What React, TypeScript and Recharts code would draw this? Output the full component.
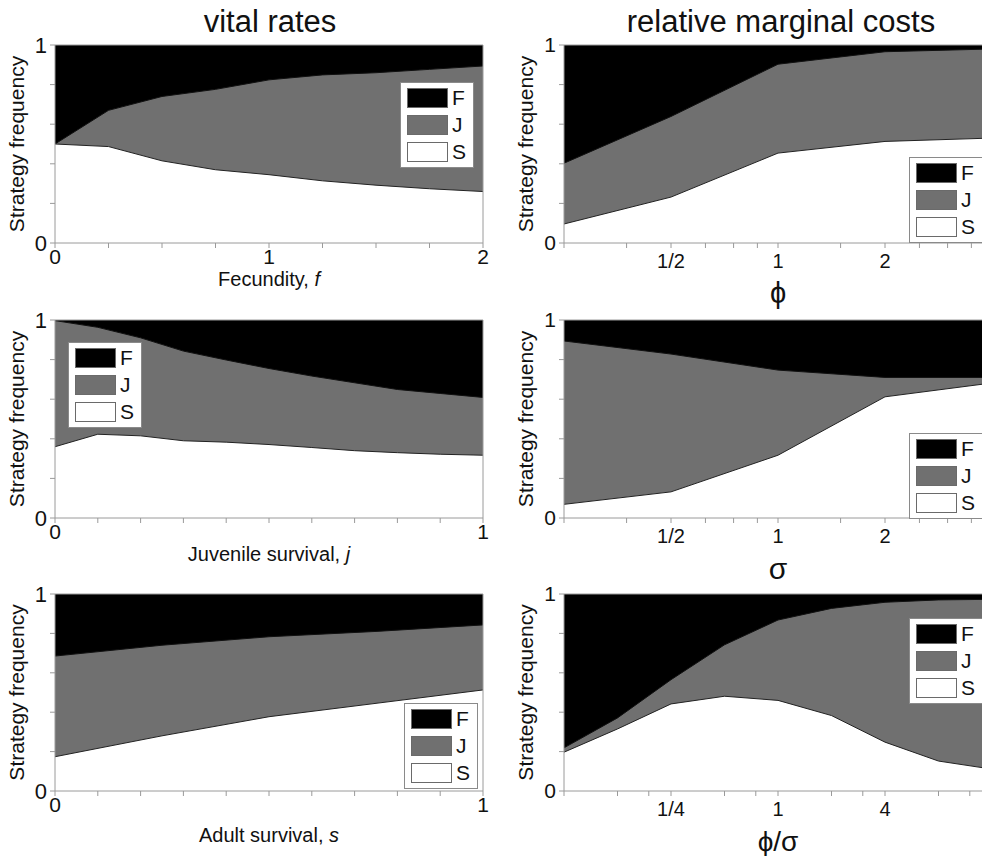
import React from 'react';
import { AreaChart, Area, XAxis, YAxis, ReferenceLine, Legend, Label } from 'recharts';

// ---------- data ----------
// Vital rates: fecundity f
const fecundityX = [0, 0.25, 0.5, 0.75, 1, 1.25, 1.5, 1.75, 2];
const fecundityS = [0.5, 0.487, 0.415, 0.37, 0.345, 0.314, 0.292, 0.274, 0.26];
const fecunditySJ = [0.5, 0.67, 0.74, 0.776, 0.824, 0.849, 0.86, 0.877, 0.894];

// Vital rates: juvenile survival j
const juvenileX = [0, 0.1, 0.2, 0.3, 0.4, 0.5, 0.6, 0.7, 0.8, 0.9, 1];
const juvenileS = [0.36, 0.423, 0.415, 0.39, 0.383, 0.371, 0.356, 0.34, 0.33, 0.322, 0.317];
const juvenileSJ = [0.997, 0.963, 0.91, 0.843, 0.798, 0.755, 0.717, 0.683, 0.649, 0.629, 0.609];

// Vital rates: adult survival s
const adultX = [0, 0.25, 0.5, 0.75, 1];
const adultS = [0.174, 0.28, 0.377, 0.445, 0.513];
const adultSJ = [0.685, 0.74, 0.783, 0.81, 0.843];

// Relative marginal costs: phi
const phiX = [0.25, 0.5, 1, 2, 4];
const phiS = [0.096, 0.232, 0.454, 0.513, 0.53];
const phiSJ = [0.403, 0.639, 0.903, 0.966, 0.98];

// Relative marginal costs: sigma
const sigmaX = [0.25, 0.5, 1, 2, 4];
const sigmaS = [0.069, 0.132, 0.317, 0.612, 0.682];
const sigmaSJ = [0.894, 0.828, 0.747, 0.71, 0.71];

// Relative marginal costs: phi/sigma
const ratioX = [1 / 16, 1 / 8, 1 / 4, 1 / 2, 1, 2, 4, 8, 16];
const ratioS = [0.197, 0.315, 0.442, 0.481, 0.46, 0.383, 0.248, 0.152, 0.111];
const ratioSJ = [0.219, 0.371, 0.565, 0.742, 0.868, 0.927, 0.958, 0.97, 0.973];

// ---------- ticks ----------
const yTicks = [0, 0.2, 0.4, 0.6, 0.8, 1];
const yTickLabels: Record<string, string> = { '0': '0', '1': '1' };
const fecundityTicks = [0, 0.25, 0.5, 0.75, 1, 1.25, 1.5, 1.75, 2];
const fecundityTickLabels: Record<string, string> = { '0': '0', '1': '1', '2': '2' };
const survivalTicks = [0, 0.1, 0.2, 0.3, 0.4, 0.5, 0.6, 0.7, 0.8, 0.9, 1];
const survivalTickLabels: Record<string, string> = { '0': '0', '1': '1' };
const costTicks = [0.25, 0.375, 0.5, 0.625, 0.75, 0.875, 1, 1.5, 2, 2.5, 3, 3.5, 4];
const costTickLabels: Record<string, string> = { '0.5': '1/2', '1': '1', '2': '2' };
const ratioTicks = [1 / 16, 1 / 8, 3 / 16, 1 / 4, 1 / 2, 3 / 4, 1, 2, 3, 4, 8, 12, 16];
const ratioTickLabels: Record<string, string> = { '0.25': '1/4', '1': '1', '4': '4' };

const strategyNames = ['F', 'J', 'S'];
const strategyFill: Record<string, string> = { F: '#000000', J: '#707070', S: '#ffffff' };

const AXIS_GREY = '#9a9a9a';
const TEXT = '#111111';
const FONT = "'Liberation Sans', Arial, Helvetica, sans-serif";

type Row = { x: number; top: number; mid: number; low: number };
const buildRows = (xs: number[], s: number[], sj: number[]): Row[] =>
  xs.map((x, i) => ({ x, top: 1, mid: sj[i], low: s[i] }));

const LegendBox = (props: any) => {
  const payload: any[] = props.payload || [];
  const names = strategyNames.filter((n) => payload.some((p) => p.value === n));
  return (
    <div
      style={{
        background: '#fff',
        border: '1px solid #8a8a8a',
        padding: '5px 6px 5px 6px',
        display: 'flex',
        flexDirection: 'column',
        gap: 7,
        width: 74,
        boxSizing: 'border-box',
        fontFamily: FONT,
      }}
    >
      {names.map((n) => (
        <div key={n} style={{ display: 'flex', alignItems: 'center', height: 20 }}>
          <div
            style={{
              width: 41,
              height: 20,
              boxSizing: 'border-box',
              background: strategyFill[n],
              border: '1px solid #6a6a6a',
              flex: 'none',
            }}
          />
          <span style={{ marginLeft: 4, fontSize: 21, lineHeight: '20px', color: TEXT }}>{n}</span>
        </div>
      ))}
    </div>
  );
};

type PanelProps = {
  left: number;
  top: number;
  width: number;
  height: number;
  marginTop: number;
  yAxisWidth: number;
  xAxisHeight: number;
  rows: Row[];
  xDomain: [number, number];
  xTicks: number[];
  xTickLabels: Record<string, string>;
  logScale?: boolean;
  xLabel: React.ReactNode;
  xLabelDy: number;
  xLabelSize: number;
  yLabelX: number;
  tickFontSize: number;
  xTickMargin: number;
  legendLeft: number;
  legendTop: number;
};

const Panel = (p: PanelProps) => {
  const xLabelContent = (props: any) => {
    const vb = props.viewBox || {};
    const cx = (vb.x ?? 0) + (vb.width ?? 0) / 2;
    const y = (vb.y ?? 0) + p.xLabelDy;
    return (
      <text x={cx} y={y} textAnchor="middle" fontSize={p.xLabelSize} fill={TEXT} fontFamily={FONT}>
        {p.xLabel}
      </text>
    );
  };
  const yLabelContent = (props: any) => {
    const vb = props.viewBox || {};
    const x = (vb.x ?? 0) + p.yLabelX;
    const cy = (vb.y ?? 0) + (vb.height ?? 0) / 2;
    return (
      <text
        x={x}
        y={cy}
        transform={`rotate(-90 ${x} ${cy})`}
        textAnchor="middle"
        fontSize={21}
        fill={TEXT}
        fontFamily={FONT}
      >
        Strategy frequency
      </text>
    );
  };
  return (
    <div style={{ position: 'absolute', left: p.left, top: p.top }}>
      <AreaChart
        width={p.width}
        height={p.height}
        data={p.rows}
        margin={{ top: p.marginTop, right: 8, bottom: 0, left: 0 }}
      >
        <XAxis
          dataKey="x"
          type="number"
          scale={p.logScale ? 'log' : 'linear'}
          domain={p.xDomain}
          ticks={p.xTicks}
          interval={0}
          allowDataOverflow
          tickFormatter={(v: number) => p.xTickLabels[String(v)] ?? ''}
          height={p.xAxisHeight}
          stroke={AXIS_GREY}
          tickLine={{ stroke: AXIS_GREY }}
          tickSize={5}
          tickMargin={p.xTickMargin}
          tick={{ fill: TEXT, fontSize: p.tickFontSize, fontFamily: FONT }}
          label={<Label content={xLabelContent} />}
        />
        <YAxis
          type="number"
          domain={[0, 1]}
          ticks={yTicks}
          interval={0}
          tickFormatter={(v: number) => yTickLabels[String(v)] ?? ''}
          width={p.yAxisWidth}
          stroke={AXIS_GREY}
          tickLine={{ stroke: AXIS_GREY }}
          tickSize={5}
          tickMargin={3}
          tick={{ fill: TEXT, fontSize: p.tickFontSize + 1, fontFamily: FONT }}
          label={<Label content={yLabelContent} />}
        />
        <Area
          type="linear"
          dataKey="top"
          name="F"
          fill={strategyFill.F}
          fillOpacity={1}
          stroke="none"
          isAnimationActive={false}
          dot={false}
          activeDot={false}
        />
        <Area
          type="linear"
          dataKey="mid"
          name="J"
          fill={strategyFill.J}
          fillOpacity={1}
          stroke="#111"
          strokeWidth={1}
          isAnimationActive={false}
          dot={false}
          activeDot={false}
        />
        <Area
          type="linear"
          dataKey="low"
          name="S"
          fill={strategyFill.S}
          fillOpacity={1}
          stroke="#222"
          strokeWidth={1}
          isAnimationActive={false}
          dot={false}
          activeDot={false}
        />
        <ReferenceLine y={1} stroke={AXIS_GREY} strokeWidth={1} />
        <ReferenceLine x={p.xDomain[1]} stroke={AXIS_GREY} strokeWidth={1} />
        <Legend
          layout="vertical"
          align="center"
          verticalAlign="middle"
          content={<LegendBox />}
          wrapperStyle={{ left: p.legendLeft, top: p.legendTop, width: 'auto', height: 'auto' }}
        />
      </AreaChart>
    </div>
  );
};

const LEFT = { left: 0, width: 491, yAxisWidth: 55, yLabelX: 24, tickFontSize: 21, xTickMargin: 1 };
const RIGHT = { left: 491, width: 509, yAxisWidth: 73, yLabelX: 42, tickFontSize: 20, xTickMargin: 6 };
const ROW1 = { top: 0, height: 310, marginTop: 45, xAxisHeight: 67 };
const ROW2 = { top: 290, height: 300, marginTop: 30, xAxisHeight: 72 };
const ROW3 = { top: 580, height: 276, marginTop: 14, xAxisHeight: 65 };

export default function App() {
  return (
    <div
      style={{
        position: 'absolute',
        left: 0,
        top: 0,
        width: 982,
        height: 856,
        overflow: 'hidden',
        background: '#fff',
        fontFamily: FONT,
      }}
    >
      <svg width={982} height={45} style={{ position: 'absolute', left: 0, top: 0 }}>
        <text x={270} y={32} textAnchor="middle" fontSize={31} fill={TEXT} fontFamily={FONT}>
          vital rates
        </text>
        <text x={781} y={32} textAnchor="middle" fontSize={31} fill={TEXT} fontFamily={FONT}>
          relative marginal costs
        </text>
      </svg>

      <Panel
        {...LEFT}
        {...ROW1}
        rows={buildRows(fecundityX, fecundityS, fecunditySJ)}
        xDomain={[0, 2]}
        xTicks={fecundityTicks}
        xTickLabels={fecundityTickLabels}
        xLabel={
          <>
            <tspan>Fecundity, </tspan>
            <tspan fontStyle="italic">f</tspan>
          </>
        }
        xLabelDy={43}
        xLabelSize={20}
        legendLeft={400}
        legendTop={82}
      />
      <Panel
        {...RIGHT}
        {...ROW1}
        logScale
        rows={buildRows(phiX, phiS, phiSJ)}
        xDomain={[0.25, 4]}
        xTicks={costTicks}
        xTickLabels={costTickLabels}
        xLabel={'ϕ'}
        xLabelDy={60}
        xLabelSize={29}
        legendLeft={418}
        legendTop={157}
      />
      <Panel
        {...LEFT}
        {...ROW2}
        rows={buildRows(juvenileX, juvenileS, juvenileSJ)}
        xDomain={[0, 1]}
        xTicks={survivalTicks}
        xTickLabels={survivalTickLabels}
        xLabel={
          <>
            <tspan>Juvenile survival, </tspan>
            <tspan fontStyle="italic">j</tspan>
          </>
        }
        xLabelDy={43}
        xLabelSize={20}
        legendLeft={68}
        legendTop={52}
      />
      <Panel
        {...RIGHT}
        {...ROW2}
        logScale
        rows={buildRows(sigmaX, sigmaS, sigmaSJ)}
        xDomain={[0.25, 4]}
        xTicks={costTicks}
        xTickLabels={costTickLabels}
        xLabel={'σ'}
        xLabelDy={61}
        xLabelSize={30}
        legendLeft={418}
        legendTop={143}
      />
      <Panel
        {...LEFT}
        {...ROW3}
        rows={buildRows(adultX, adultS, adultSJ)}
        xDomain={[0, 1]}
        xTicks={survivalTicks}
        xTickLabels={survivalTickLabels}
        xLabel={
          <>
            <tspan>Adult survival, </tspan>
            <tspan fontStyle="italic">s</tspan>
          </>
        }
        xLabelDy={51}
        xLabelSize={20}
        legendLeft={404}
        legendTop={123}
      />
      <Panel
        {...RIGHT}
        {...ROW3}
        logScale
        rows={buildRows(ratioX, ratioS, ratioSJ)}
        xDomain={[1 / 16, 16]}
        xTicks={ratioTicks}
        xTickLabels={ratioTickLabels}
        xLabel={'ϕ/σ'}
        xLabelDy={60}
        xLabelSize={28}
        legendLeft={418}
        legendTop={38}
      />
    </div>
  );
}
